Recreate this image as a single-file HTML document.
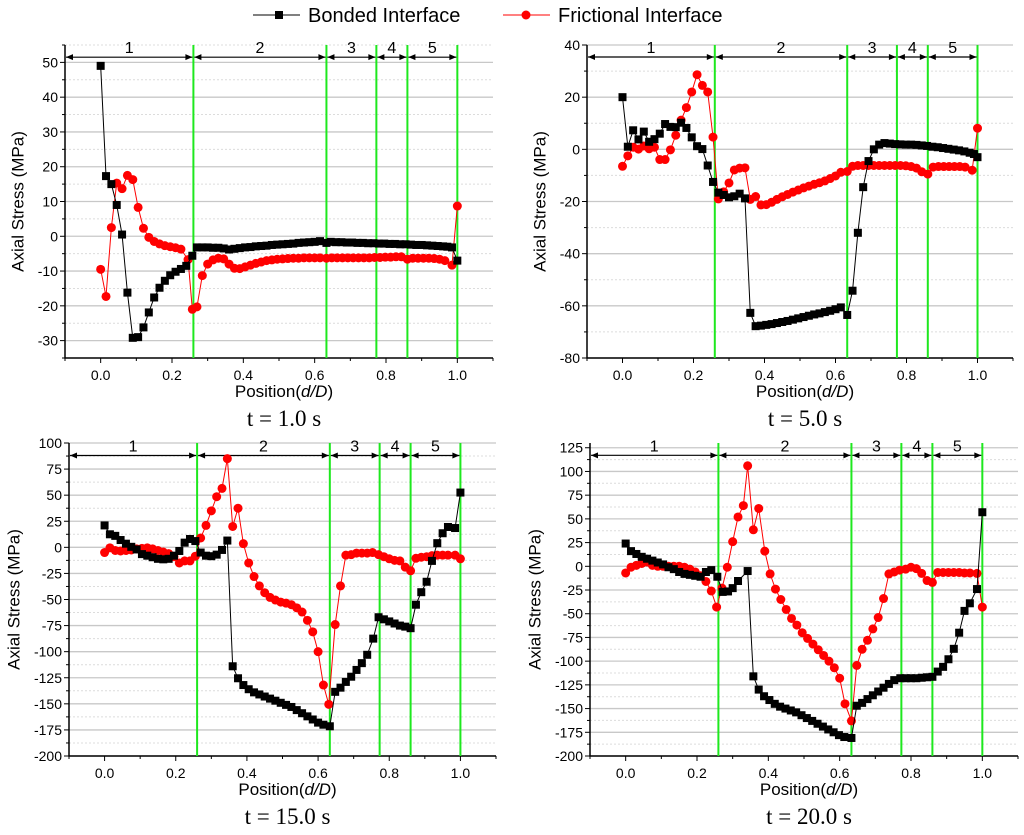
<!DOCTYPE html>
<html><head><meta charset="utf-8">
<style>
html,body{margin:0;padding:0;background:#fff;}
svg{display:block;font-family:"Liberation Sans",sans-serif;}
</style></head>
<body>
<svg id="fig" width="1024" height="835" viewBox="0 0 1024 835" xmlns="http://www.w3.org/2000/svg">
  <g>
    <g>
      <line x1="253" y1="15" x2="300" y2="15" stroke="#000" stroke-width="1"/>
      <rect x="275" y="11" width="8" height="8" fill="#000"/>
      <text x="308" y="22" font-size="20" fill="#000">Bonded Interface</text>
    </g>
    <g>
      <line x1="503" y1="15" x2="550" y2="15" stroke="#f00" stroke-width="1"/>
      <circle cx="526" cy="15" r="4.5" fill="#f00"/>
      <text x="558" y="22" font-size="20" fill="#000">Frictional Interface</text>
    </g>
  </g>
</svg>
<script>
// ---------- data ----------
const xTickLabels = ["0.0","0.2","0.4","0.6","0.8","1.0"];
const xTickValues = [0,0.2,0.4,0.6,0.8,1.0];
const zoneBounds = [0.26,0.633,0.773,0.86,1.0];
const zoneLabels = ["1","2","3","4","5"];
const panelTitles = ["t = 1.0 s","t = 5.0 s","t = 15.0 s","t = 20.0 s"];

const p1Bond = [[0,49],[.015,17.3],[.03,15],[.045,9],[.06,0.5],[.075,-16.2],[.09,-29.2],[.105,-29],[.12,-26.2],[.135,-21.9],[.15,-17.6],[.165,-14.8],[.18,-12.8],[.195,-11.2],[.21,-10.2],[.225,-9.4],[.24,-8.5],[.257,-5.6],
[.27,-3.2],[.285,-3.2],[.30,-3.2],[.315,-3.3],[.33,-3.3],[.345,-3.5],[.36,-3.8],[.375,-3.6],[.39,-3.4],[.405,-3.2],[.42,-3.1],[.435,-2.9],[.45,-2.8],[.465,-2.7],[.48,-2.5],[.495,-2.4],[.51,-2.3],[.525,-2.2],[.54,-2.1],[.555,-1.9],[.57,-1.8],[.585,-1.7],[.60,-1.6],[.615,-1.4],[.633,-1.9],
[.645,-1.6],[.66,-1.7],[.675,-1.7],[.69,-1.8],[.705,-1.8],[.72,-1.9],[.735,-1.9],[.75,-2.0],[.765,-2.0],[.78,-2.1],[.795,-2.1],[.81,-2.2],[.825,-2.2],[.84,-2.3],[.855,-2.3],[.87,-2.4],[.885,-2.5],[.90,-2.5],[.915,-2.6],[.93,-2.7],[.945,-2.8],[.96,-2.9],[.972,-3.0],[.985,-3.2],[1.0,-7]];
const p1Fric = [[0,-9.5],[.015,-17.3],[.03,2.5],[.045,15.3],[.06,13.7],[.075,17.5],[.09,16.3],[.105,8.3],[.12,2.3],[.135,-0.3],[.15,-1.5],[.165,-2.2],[.18,-2.7],[.195,-3.0],[.21,-3.3],[.225,-3.7],[.245,-6.7],[.257,-21],[.27,-20.3],[.285,-11.3],[.30,-8],[.315,-6.8],[.33,-6.3],[.345,-6.5],[.36,-8],[.375,-9.2],[.39,-9.3],[.405,-8.8],[.42,-8.3],[.435,-7.8],[.45,-7.4],[.465,-7.0],[.48,-6.8],[.495,-6.6],[.51,-6.5],[.525,-6.4],[.54,-6.3],[.555,-6.3],[.57,-6.2],[.585,-6.2],[.60,-6.2],[.615,-6.2],[.633,-6.3],[.648,-6.2],[.663,-6.2],[.678,-6.2],[.693,-6.2],[.708,-6.2],[.723,-6.2],[.738,-6.2],[.753,-6.2],[.768,-6.1],[.783,-6.1],[.798,-6.0],[.813,-6.0],[.828,-5.9],[.843,-5.9],[.86,-6.6],[.875,-6.3],[.89,-6.3],[.905,-6.3],[.92,-6.3],[.935,-6.4],[.95,-6.6],[.965,-7.0],[.985,-8.3],[1.0,8.7]];

const p2Bond = [[0,20],[.015,1],[.03,7.3],[.045,3.8],[.06,6.8],[.075,2.9],[.09,3.9],[.105,6],[.12,9.7],[.135,8.6],[.15,8.5],[.165,10.2],[.18,8.2],[.195,4.6],[.21,1.2],[.225,0.1],[.24,-6.2],[.255,-12.5],[.27,-16.6],[.285,-17.5],[.30,-18.4],[.315,-18],[.33,-17],[.345,-18.8],[.36,-62.7],[.375,-67.8],[.39,-67.6],[.405,-67.3],[.42,-67],[.435,-66.6],[.45,-66.2],[.465,-65.8],[.48,-65.3],[.495,-64.8],[.51,-64.3],[.525,-63.8],[.54,-63.3],[.555,-62.9],[.57,-62.4],[.585,-61.9],[.60,-61.3],[.615,-60.6],[.633,-63.5],[.648,-54.2],[.663,-32],[.678,-14.5],[.693,-4.5],[.708,0],[.723,1.8],[.738,2.4],[.753,2.2],[.768,2.0],[.783,1.9],[.798,1.8],[.813,1.8],[.828,1.7],[.843,1.5],[.858,1.3],[.873,1.0],[.888,0.8],[.903,0.5],[.918,0.2],[.933,-0.1],[.948,-0.4],[.963,-0.8],[.978,-1.3],[.99,-1.8],[1.0,-3]];
const p2Fric = [[0,-6.5],[.015,-2.5],[.03,0.8],[.045,0.1],[.06,1.3],[.075,0.2],[.09,0.8],[.105,-3.9],[.12,-3.9],[.135,-0.2],[.15,5.4],[.165,11.2],[.18,16],[.195,22],[.21,28.6],[.225,24.5],[.24,22],[.255,4.7],[.27,-19],[.285,-16.3],[.30,-12.9],[.315,-7.9],[.33,-7.2],[.345,-7.1],[.36,-19.2],[.375,-18.1],[.39,-21.3],[.405,-21.2],[.42,-20.3],[.435,-19.2],[.45,-18.2],[.465,-17.3],[.48,-16.4],[.495,-15.6],[.51,-14.8],[.525,-14.1],[.54,-13.4],[.555,-12.8],[.57,-12.1],[.585,-11.2],[.60,-10.2],[.615,-8.8],[.633,-8.5],[.648,-6.5],[.663,-6.2],[.678,-6.2],[.693,-6.2],[.708,-6.2],[.723,-6.2],[.738,-6.2],[.753,-6.2],[.768,-6.2],[.783,-6.2],[.798,-6.3],[.813,-6.6],[.828,-7.2],[.843,-8.6],[.86,-9.5],[.875,-6.8],[.89,-6.6],[.905,-6.6],[.92,-6.6],[.935,-6.6],[.95,-6.6],[.965,-6.8],[.985,-8],[1.0,8.1]];

const p3Bond = [[0,21],[.015,12.5],[.03,11],[.045,7],[.06,3.5],[.075,0.5],[.09,-2],[.105,-6.5],[.12,-8],[.135,-9.5],[.15,-11],[.165,-11.5],[.18,-11],[.195,-8],[.21,-3.5],[.225,4.5],[.24,8],[.255,6],[.27,-5],[.285,-8],[.30,-8.5],[.315,-7],[.33,-2.5],[.345,6.5],[.36,-114],[.375,-125.5],[.39,-132],[.405,-136],[.42,-139],[.435,-141],[.45,-143],[.465,-145],[.48,-147],[.495,-149],[.51,-151],[.525,-153],[.54,-156],[.555,-159],[.57,-162],[.585,-165],[.60,-168],[.615,-170],[.633,-171.5],[.648,-138.5],[.663,-134.5],[.678,-129],[.693,-124],[.708,-117.5],[.723,-111],[.738,-103],[.755,-87.5],[.77,-67],[.785,-69],[.80,-71],[.815,-73],[.83,-75],[.845,-76],[.86,-77.5],[.875,-55],[.89,-43],[.905,-33],[.92,-13],[.935,4],[.95,13.5],[.965,19.5],[.985,18.5],[1.0,52.5]];
const p3Fric = [[0,-5],[.015,-0.5],[.03,-3],[.045,-3.5],[.06,-3],[.075,-2.5],[.09,-1.5],[.105,-1],[.12,-0.5],[.135,-1.5],[.15,-3],[.165,-4.5],[.18,-6],[.195,-9],[.21,-15],[.225,-13],[.24,-13],[.255,-8.5],[.27,9],[.285,21],[.30,35],[.315,48.5],[.33,56.5],[.345,85],[.36,20],[.375,37.5],[.39,3.5],[.405,-15],[.42,-28],[.435,-37],[.45,-43.5],[.465,-48],[.48,-50.5],[.495,-52.5],[.51,-53.5],[.525,-55],[.54,-58],[.555,-62],[.57,-70],[.585,-81],[.60,-100],[.615,-132],[.63,-150.5],[.648,-74],[.663,-37],[.678,-7.5],[.693,-7],[.708,-5.5],[.723,-5.5],[.738,-5.5],[.753,-5],[.77,-7],[.785,-9],[.80,-11],[.815,-12.5],[.83,-13],[.845,-19],[.86,-22.5],[.875,-10.5],[.89,-9.5],[.905,-9],[.92,-8],[.935,-7.5],[.95,-7.5],[.965,-7.5],[.985,-7.5],[1.0,-11]];

const p4Bond = [[0,24],[.015,16],[.03,13],[.045,10],[.06,8],[.075,6],[.09,4],[.105,2],[.12,-1],[.135,-3],[.15,-6],[.165,-8],[.18,-9],[.195,-10],[.21,-11],[.225,-6],[.24,-4],[.257,-11],[.272,-27],[.287,-26.5],[.30,-23],[.315,-15.5],[.342,-5],[.358,-116],[.373,-130],[.388,-137],[.403,-141],[.418,-145],[.433,-148],[.448,-150],[.463,-152],[.478,-154],[.493,-157],[.508,-160],[.523,-163],[.538,-166],[.553,-169],[.568,-172],[.583,-175],[.598,-178],[.613,-180],[.633,-181],[.648,-147],[.663,-144],[.678,-140],[.693,-136],[.708,-132],[.723,-128],[.738,-124],[.753,-120],[.77,-118],[.785,-118],[.80,-118],[.815,-118],[.83,-117.5],[.845,-117],[.86,-116.5],[.875,-111],[.89,-106],[.905,-98],[.92,-87],[.935,-70],[.95,-47],[.965,-39],[.985,-24],[1.0,57]];
const p4Fric = [[0,-7],[.015,-1],[.03,1],[.045,3],[.06,4.5],[.075,1],[.09,0],[.105,0],[.12,0],[.135,0],[.15,0],[.165,-1],[.18,-3],[.195,-6],[.21,-10],[.225,-16],[.24,-26],[.255,-43],[.27,-23],[.285,-1],[.30,26],[.315,52],[.33,64],[.342,106],[.358,38.5],[.373,61],[.39,16],[.405,-8],[.42,-24],[.435,-35],[.45,-45.5],[.465,-55],[.48,-62],[.495,-70],[.51,-76],[.525,-82],[.54,-88],[.555,-94],[.57,-100],[.585,-107],[.60,-118],[.615,-145],[.633,-163],[.648,-104.5],[.663,-87.5],[.678,-78],[.693,-66],[.708,-54],[.723,-34],[.738,-8],[.753,-6],[.768,-4],[.785,-3],[.80,-1],[.815,-2.5],[.83,-7.5],[.845,-15],[.86,-17],[.875,-6.5],[.89,-6.5],[.905,-6.5],[.92,-6.5],[.935,-6.5],[.95,-7],[.965,-7],[.985,-7.5],[1.0,-43]];

const p1YTicks = [-30,-20,-10,0,10,20,30,40,50];
const p2YTicks = [-80,-60,-40,-20,0,20,40];
const p3YTicks = [-200,-175,-150,-125,-100,-75,-50,-25,0,25,50,75,100];
const p4YTicks = [-200,-175,-150,-125,-100,-75,-50,-25,0,25,50,75,100,125];

// ---------- layout ----------
const panels = [
  {id:"p1",L:65,R:493,T:45,B:358,ymin:-35,ymax:55,minor:5,ticks:p1YTicks,bond:p1Bond,fric:p1Fric,arrowY:51.5,ytx:18,title:panelTitles[0]},
  {id:"p2",L:587,R:1013,T:45,B:358,ymin:-80,ymax:40,minor:10,ticks:p2YTicks,bond:p2Bond,fric:p2Fric,arrowY:35.4,ytx:540,title:panelTitles[1]},
  {id:"p3",L:69,R:496,T:443,B:756,ymin:-200,ymax:100,minor:12.5,ticks:p3YTicks,bond:p3Bond,fric:p3Fric,arrowY:88,ytx:14,title:panelTitles[2]},
  {id:"p4",L:590,R:1018,T:443,B:756,ymin:-200,ymax:130,minor:12.5,ticks:p4YTicks,bond:p4Bond,fric:p4Fric,arrowY:117,ytx:535,title:panelTitles[3]}
];
const NS="http://www.w3.org/2000/svg";
const svg=document.getElementById("fig");
function mk(tag,attrs,parent){const e=document.createElementNS(NS,tag);for(const k in attrs)e.setAttribute(k,attrs[k]);(parent||svg).appendChild(e);return e;}

panels.forEach(function(p){
  const xmin=-0.1,xmax=1.1;
  const sx=v=>p.L+(v-xmin)/(xmax-xmin)*(p.R-p.L);
  const sy=v=>p.B-(v-p.ymin)/(p.ymax-p.ymin)*(p.B-p.T);
  const g=mk("g",{});
  
  
  // minor dotted grid
  const step=p.minor;
  for(let v=p.ticks[0]-step; v<=p.ymax+1e-9; v+=step){
    if(v<p.ymin-1e-9) continue;
    const major=p.ticks.some(t=>Math.abs(t-v)<1e-6);
    const y=sy(v);
    const ln=mk("line",{x1:p.L,x2:p.R,y1:y,y2:y,stroke:major?"#c8c8c8":"#dcdcdc","stroke-width":major?1.3:1,"stroke-dasharray":major?"none":"2,2"},g);
    
    
    const tk=mk("line",{x1:p.L-(major?5:3),x2:p.L,y1:y,y2:y,stroke:"#000","stroke-width":1},g);
    
    
  }
  p.ticks.forEach(function(v){
    const t=mk("text",{x:p.L-7,y:sy(v)+5,"text-anchor":"end","font-size":14,fill:"#000"},g);
    t.textContent=String(v);
    
    
  });
  // x ticks
  for(let i=-1;i<=11;i++){
    const v=i/10, x=sx(v), major=(i%2===0);
    const tk=mk("line",{x1:x,x2:x,y1:p.B,y2:p.B+(major?5:3),stroke:"#000","stroke-width":1},g);
    
    
  }
  xTickValues.forEach(function(v,i){
    const t=mk("text",{x:sx(v),y:p.B+22,"text-anchor":"middle","font-size":14,fill:"#000"},g);
    t.textContent=xTickLabels[i];
    
    
  });
  // axes
  const ax=mk("path",{d:"M"+p.L+","+p.T+" V"+p.B+" H"+p.R,fill:"none",stroke:"#000","stroke-width":1.5},g);
  
  
  // green zone lines
  zoneBounds.forEach(function(v){
    const ln=mk("line",{x1:sx(v),x2:sx(v),y1:p.T,y2:p.B,stroke:"#1ee81e","stroke-width":2},g);
    
    
  });
  // zone arrows
  const ay=sy(p.arrowY);
  let prev=xmin;
  zoneBounds.forEach(function(v,i){
    const x1=sx(prev)+1,x2=sx(v)-1;
    const a=mk("g",{},g);
    
    
    mk("line",{x1:x1,x2:x2,y1:ay,y2:ay,stroke:"#000","stroke-width":1.2},a);
    mk("path",{d:"M"+x1+","+ay+" l7,-3 v6 z",fill:"#000"},a);
    mk("path",{d:"M"+x2+","+ay+" l-7,-3 v6 z",fill:"#000"},a);
    const t=mk("text",{x:(x1+x2)/2,y:ay-4,"text-anchor":"middle","font-size":16,fill:"#000"},a);
    t.textContent=zoneLabels[i];
    prev=v;
  });
  // series
  function series(data,color,kind,name){
    const sg=mk("g",{},g);
    
    
    mk("polyline",{points:data.map(d=>sx(d[0])+","+sy(d[1])).join(" "),fill:"none",stroke:color,"stroke-width":1},sg);
    data.forEach(function(d){
      let m;
      if(kind==="sq") m=mk("rect",{x:sx(d[0])-4,y:sy(d[1])-4,width:8,height:8,fill:color},sg);
      else m=mk("circle",{cx:sx(d[0]),cy:sy(d[1]),r:4.5,fill:color},sg);
      
      
    });
  }
  series(p.fric,"#ff0000","ci","frictional-series");
  series(p.bond,"#000000","sq","bonded-series");
  // axis titles
  const yt=mk("text",{x:p.ytx,y:(p.T+p.B)/2,"text-anchor":"middle","font-size":17,fill:"#000",transform:"rotate(-90 "+p.ytx+" "+((p.T+p.B)/2)+")","dominant-baseline":"central"},g);
  yt.textContent="Axial Stress (MPa)";
  
  
  const xt=mk("text",{x:sx(0.5)+5,y:p.B+39,"text-anchor":"middle","font-size":17,fill:"#000"},g);
  
  
  xt.appendChild(document.createTextNode("Position("));
  const it=document.createElementNS(NS,"tspan");it.setAttribute("font-style","italic");it.textContent="d/D";xt.appendChild(it);
  xt.appendChild(document.createTextNode(")"));
  const tt=mk("text",{x:sx(0.5)+5,y:p.B+68,"text-anchor":"middle","font-size":23,fill:"#000","font-family":"Liberation Serif, serif"},g);
  tt.textContent=p.title;
  
  
});
</script>
</body></html>
